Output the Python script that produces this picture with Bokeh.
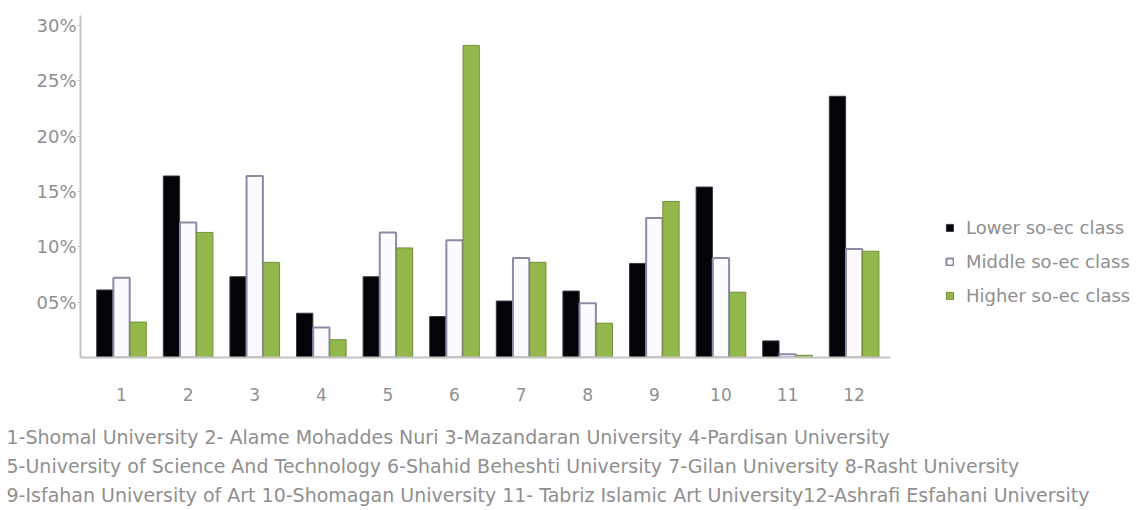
from bokeh.plotting import figure
from bokeh.models import (ColumnDataSource, FixedTicker, Legend, LegendItem,
                          Range1d, Title)
from bokeh.transform import dodge
from bokeh.embed import file_html
from bokeh.resources import INLINE

# University index (see footer key) and share of each socio-economic class, in %
universities = list(range(1, 13))
lower_class = [6.1, 16.4, 7.3, 4.0, 7.3, 3.7, 5.1, 6.0, 8.5, 15.4, 1.5, 23.6]
middle_class = [7.2, 12.2, 16.4, 2.7, 11.3, 10.6, 9.0, 4.9, 12.6, 9.0, 0.3, 9.8]
higher_class = [3.2, 11.3, 8.6, 1.6, 9.9, 28.2, 8.6, 3.1, 14.1, 5.9, 0.2, 9.6]

series_names = ["Lower so-ec class", "Middle so-ec class", "Higher so-ec class"]
y_ticks = [5, 10, 15, 20, 25, 30]
y_tick_labels = ["05%", "10%", "15%", "20%", "25%", "30%"]

footer_lines = [
    "1-Shomal University 2- Alame Mohaddes Nuri 3-Mazandaran University 4-Pardisan University",
    "5-University of Science And Technology 6-Shahid Beheshti University 7-Gilan University 8-Rasht University",
    "9-Isfahan University of Art 10-Shomagan University 11- Tabriz Islamic Art University12-Ashrafi Esfahani University",
]

FONT = "DejaVu Sans"
TEXT_GRAY = "#8f8f8f"
AXIS_GRAY = "#c4c4c4"

X_START, X_AXIS_END = 0.384, 12.546
# frame runs to the right edge so the legend can sit inside it
p = figure(width=1145, height=510, output_backend="svg", toolbar_location=None,
           x_range=Range1d(X_START, 16.375), y_range=Range1d(0, 30.9),
           min_border_left=80, min_border_top=15, min_border_bottom=153,
           min_border_right=0)
p.outline_line_color = None
p.xgrid.grid_line_color = None
p.ygrid.grid_line_color = None
p.background_fill_color = "white"

src = ColumnDataSource(dict(x=universities, lower=lower_class,
                            middle=middle_class, higher=higher_class))

w = 0.245
r_low = p.vbar(x=dodge("x", -0.25, range=p.x_range), top="lower", width=w,
               source=src, fill_color="#050308", line_color="#3a3845", line_width=1)
r_mid = p.vbar(x=dodge("x", 0.0, range=p.x_range), top="middle", width=w,
               source=src, fill_color="#fcfbff", line_color="#8d89a6", line_width=2)
r_high = p.vbar(x=dodge("x", 0.25, range=p.x_range), top="higher", width=w,
                source=src, fill_color="#94b74c", line_color="#73903a", line_width=1)

# axes
p.yaxis.ticker = FixedTicker(ticks=y_ticks)
p.yaxis.major_label_overrides = {t: s for t, s in zip(y_ticks, y_tick_labels)}
p.xaxis.ticker = FixedTicker(ticks=universities)
p.xaxis.bounds = (X_START, X_AXIS_END)
for ax in (p.xaxis[0], p.yaxis[0]):
    ax.axis_line_color = AXIS_GRAY
    ax.axis_line_width = 2
    ax.major_tick_line_color = AXIS_GRAY
    ax.minor_tick_line_color = None
    ax.major_label_text_color = TEXT_GRAY
    ax.major_label_text_font = FONT
ax = p.yaxis[0]
ax.major_tick_in = 0
ax.major_tick_out = 3
ax.major_label_text_font_size = "18px"
ax.major_label_standoff = 1
ax = p.xaxis[0]
ax.major_tick_in = 0
ax.major_tick_out = 0
ax.major_label_text_font_size = "17px"
ax.major_label_standoff = 30
# blank axis label keeps a gap between the tick numbers and the key below
ax.axis_label = "\u00a0"
ax.axis_label_text_font_size = "10px"
ax.axis_label_standoff = 6

legend = Legend(items=[LegendItem(label=n, renderers=[r])
                       for n, r in zip(series_names, [r_low, r_mid, r_high])],
                location=(865, 51), orientation="vertical",
                label_text_font=FONT, label_text_font_size="18px",
                label_text_color=TEXT_GRAY, glyph_width=9, glyph_height=9,
                spacing=13, border_line_color=None, background_fill_alpha=0,
                label_standoff=12)
p.add_layout(legend)

# footer key with the university names, one block under the x axis
p.add_layout(Title(text="\n".join(footer_lines), align="left", offset=-74,
                   standoff=2, text_line_height=1.325,
                   text_font=FONT, text_font_size="19px",
                   text_font_style="normal", text_color=TEXT_GRAY), "below")

open("out.html", "w").write(file_html(p, INLINE))
